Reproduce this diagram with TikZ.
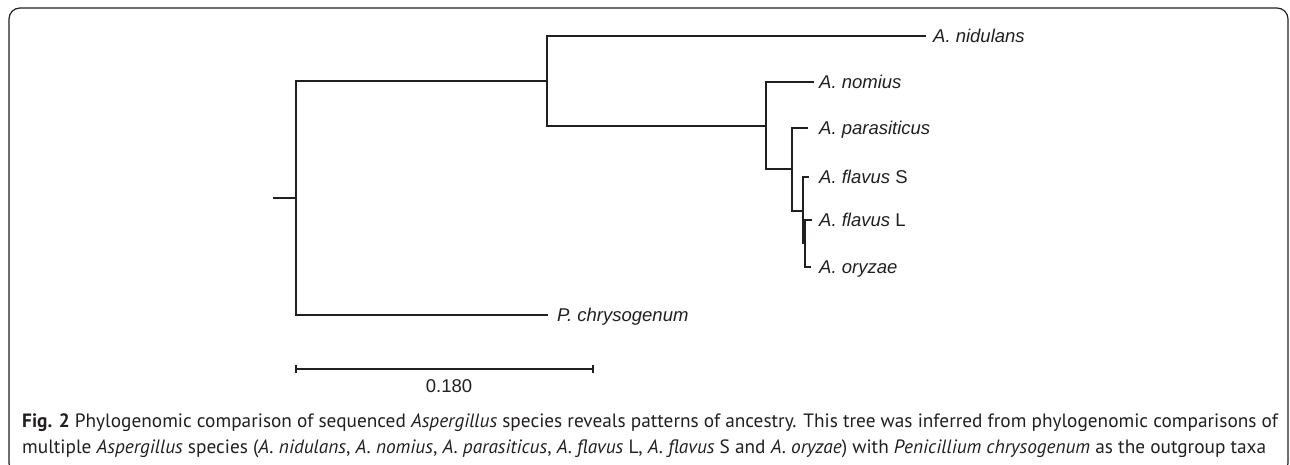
\documentclass[tikz,border=0pt]{standalone}
\usepackage{fontspec}
\setmainfont{Liberation Sans}
\newfontfamily\capfont{PT Sans}
\definecolor{ink}{HTML}{231F20}
\tikzset{
  branch/.style={line width=2pt, draw=ink, line cap=rect},
  taxon/.style={anchor=base west, inner sep=0pt, font=\fontsize{18.5}{20}\selectfont\itshape, text=ink},
  captxt/.style={anchor=base west, inner sep=0pt, font=\capfont\fontsize{19.3}{22}\selectfont, text=ink},
  frame/.style={line width=1.2pt, draw=ink, rounded corners=11pt}
}
\begin{document}
\begin{tikzpicture}[x=1pt,y=-1pt]
\useasboundingbox (0,0) rectangle (1290,465);
\begin{scope}
\clip (0,0) rectangle (1290,465);
\draw[frame] (9,8) rectangle (1288,474);
\end{scope}
% tree coordinates
\coordinate (stub) at (274,198);
\coordinate (r) at (296,198);
\coordinate (rt) at (296,81);
\coordinate (rb) at (296,315);
\coordinate (n1) at (547,81);
\coordinate (n1t) at (547,36);
\coordinate (n1b) at (547,126);
\coordinate (n2) at (766,126);
\coordinate (n2t) at (766,82);
\coordinate (n2b) at (766,169);
\coordinate (n3) at (792,169);
\coordinate (n3t) at (792,128);
\coordinate (n3b) at (792,211);
\coordinate (n4) at (803,211);
\coordinate (n4t) at (803,177);
\coordinate (n4b) at (803,243);
\coordinate (n5) at (805,243);
\coordinate (n5t) at (805,220);
\coordinate (n5b) at (805,267);
\coordinate (tnid) at (925,36);
\coordinate (tnom) at (813,82);
\coordinate (tpar) at (807,128);
\coordinate (tfS) at (808,177);
\coordinate (tfL) at (811,220);
\coordinate (tory) at (810,267);
\coordinate (tpen) at (547,315);
% branches
\draw[branch] (stub) -- (r);
\draw[branch] (rt) -- (rb);
\draw[branch] (rt) -- (n1);
\draw[branch] (rb) -- (tpen);
\draw[branch] (n1t) -- (n1b);
\draw[branch] (n1t) -- (tnid);
\draw[branch] (n1b) -- (n2);
\draw[branch] (n2t) -- (n2b);
\draw[branch] (n2t) -- (tnom);
\draw[branch] (n2b) -- (n3);
\draw[branch] (n3t) -- (n3b);
\draw[branch] (n3t) -- (tpar);
\draw[branch] (n3b) -- (n4);
\draw[branch] (n4t) -- (n4b);
\draw[branch] (n4t) -- (tfS);
\draw[branch] (n4b) -- (n5);
\draw[branch] (n5t) -- (n5b);
\draw[branch] (n5t) -- (tfL);
\draw[branch] (n5b) -- (tory);
% labels
\node[taxon] (lnid) at (933,42.7) {A. nidulans};
\node[taxon] (lnom) at (819,88.7) {A. nomius};
\node[taxon] (lpar) at (819,134.7) {A. parasiticus};
\node[taxon] (lfS) at (819,183.7) {A. flavus \upshape S};
\node[taxon] (lfL) at (819,226.7) {A. flavus \upshape L};
\node[taxon] (lory) at (819,273.7) {A. oryzae};
\node[taxon] (lpen) at (557,321.7) {P. chrysogenum};
% scale bar
\coordinate (sb1) at (296,369);
\coordinate (sb2) at (593,369);
\draw[line width=2pt, draw=ink] (sb1) -- (sb2);
\draw[line width=1.5pt, draw=ink] ([yshift=-4pt]sb1) -- ([yshift=4pt]sb1);
\draw[line width=1.5pt, draw=ink] ([yshift=-4pt]sb2) -- ([yshift=4pt]sb2);
\node[taxon, font=\fontsize{18.5}{20}\selectfont, anchor=base] (sblab) at (449,392) {0.180};
% caption
\node[captxt] (cap1) at (22,427) {\textbf{Fig. 2} Phylogenomic comparison of sequenced \textit{Aspergillus} species reveals patterns of ancestry. This tree was inferred from phylogenomic comparisons of};
\node[captxt] (cap2) at (22,453) {multiple \textit{Aspergillus} species (\textit{A. nidulans}, \textit{A. nomius}, \textit{A. parasiticus}, \textit{A. flavus} L, \textit{A. flavus} S and \textit{A. oryzae}) with \textit{Penicillium chrysogenum} as the outgroup taxa};
\end{tikzpicture}
\end{document}
